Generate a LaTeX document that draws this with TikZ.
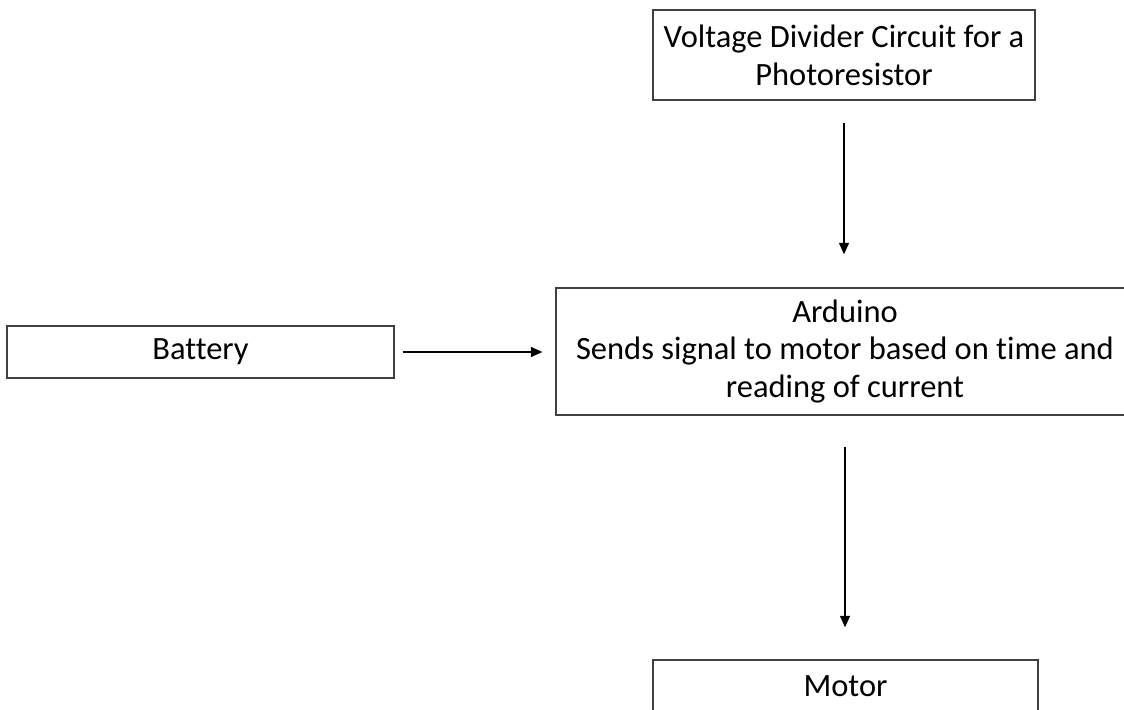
\documentclass[tikz,border=0pt]{standalone}
\usepackage{fontspec}
\setmainfont{Carlito}[Ligatures=NoCommon]
\usepackage{tikz}
\usetikzlibrary{arrows.meta,positioning,calc}
\tikzset{
  bbox/.style={rectangle,draw=black!75,line width=0.8pt,inner sep=2pt,align=center,font=\fontsize{18.5}{21.5}\selectfont},
  fe/.style={-{Triangle[length=2.3mm,width=2mm]},line width=0.75pt}
}

\begin{document}
\begin{tikzpicture}[x=0.02cm,y=-0.02cm]
\useasboundingbox (0,0) rectangle (1124,709);
\clip (0,0) rectangle (1124,709);
\node[bbox,minimum width=7.64cm,minimum height=1.8cm] (volt) at (844,55) {Voltage Divider Circuit for a\\Photoresistor};
\node[bbox,minimum width=11.56cm,minimum height=2.54cm] (ard) at (845,351.5) {Arduino\\Sends signal to motor based on time and\\reading of current};
\node[bbox,minimum width=7.74cm,minimum height=1.04cm] (bat) at (200.5,352) {Battery};
\node[bbox,minimum width=7.7cm,minimum height=1.04cm] (mot) at (845.5,686) {Motor};
\draw[fe,shorten <=0.44cm,shorten >=0.66cm] (volt.south) -- (volt.south |- ard.north);
\draw[fe,shorten <=0.16cm,shorten >=0.26cm] (bat.east) -- (bat.east -| ard.west);
\draw[fe,shorten <=0.62cm,shorten >=0.64cm] (ard.south) -- (ard.south |- mot.north);
\end{tikzpicture}
\end{document}
